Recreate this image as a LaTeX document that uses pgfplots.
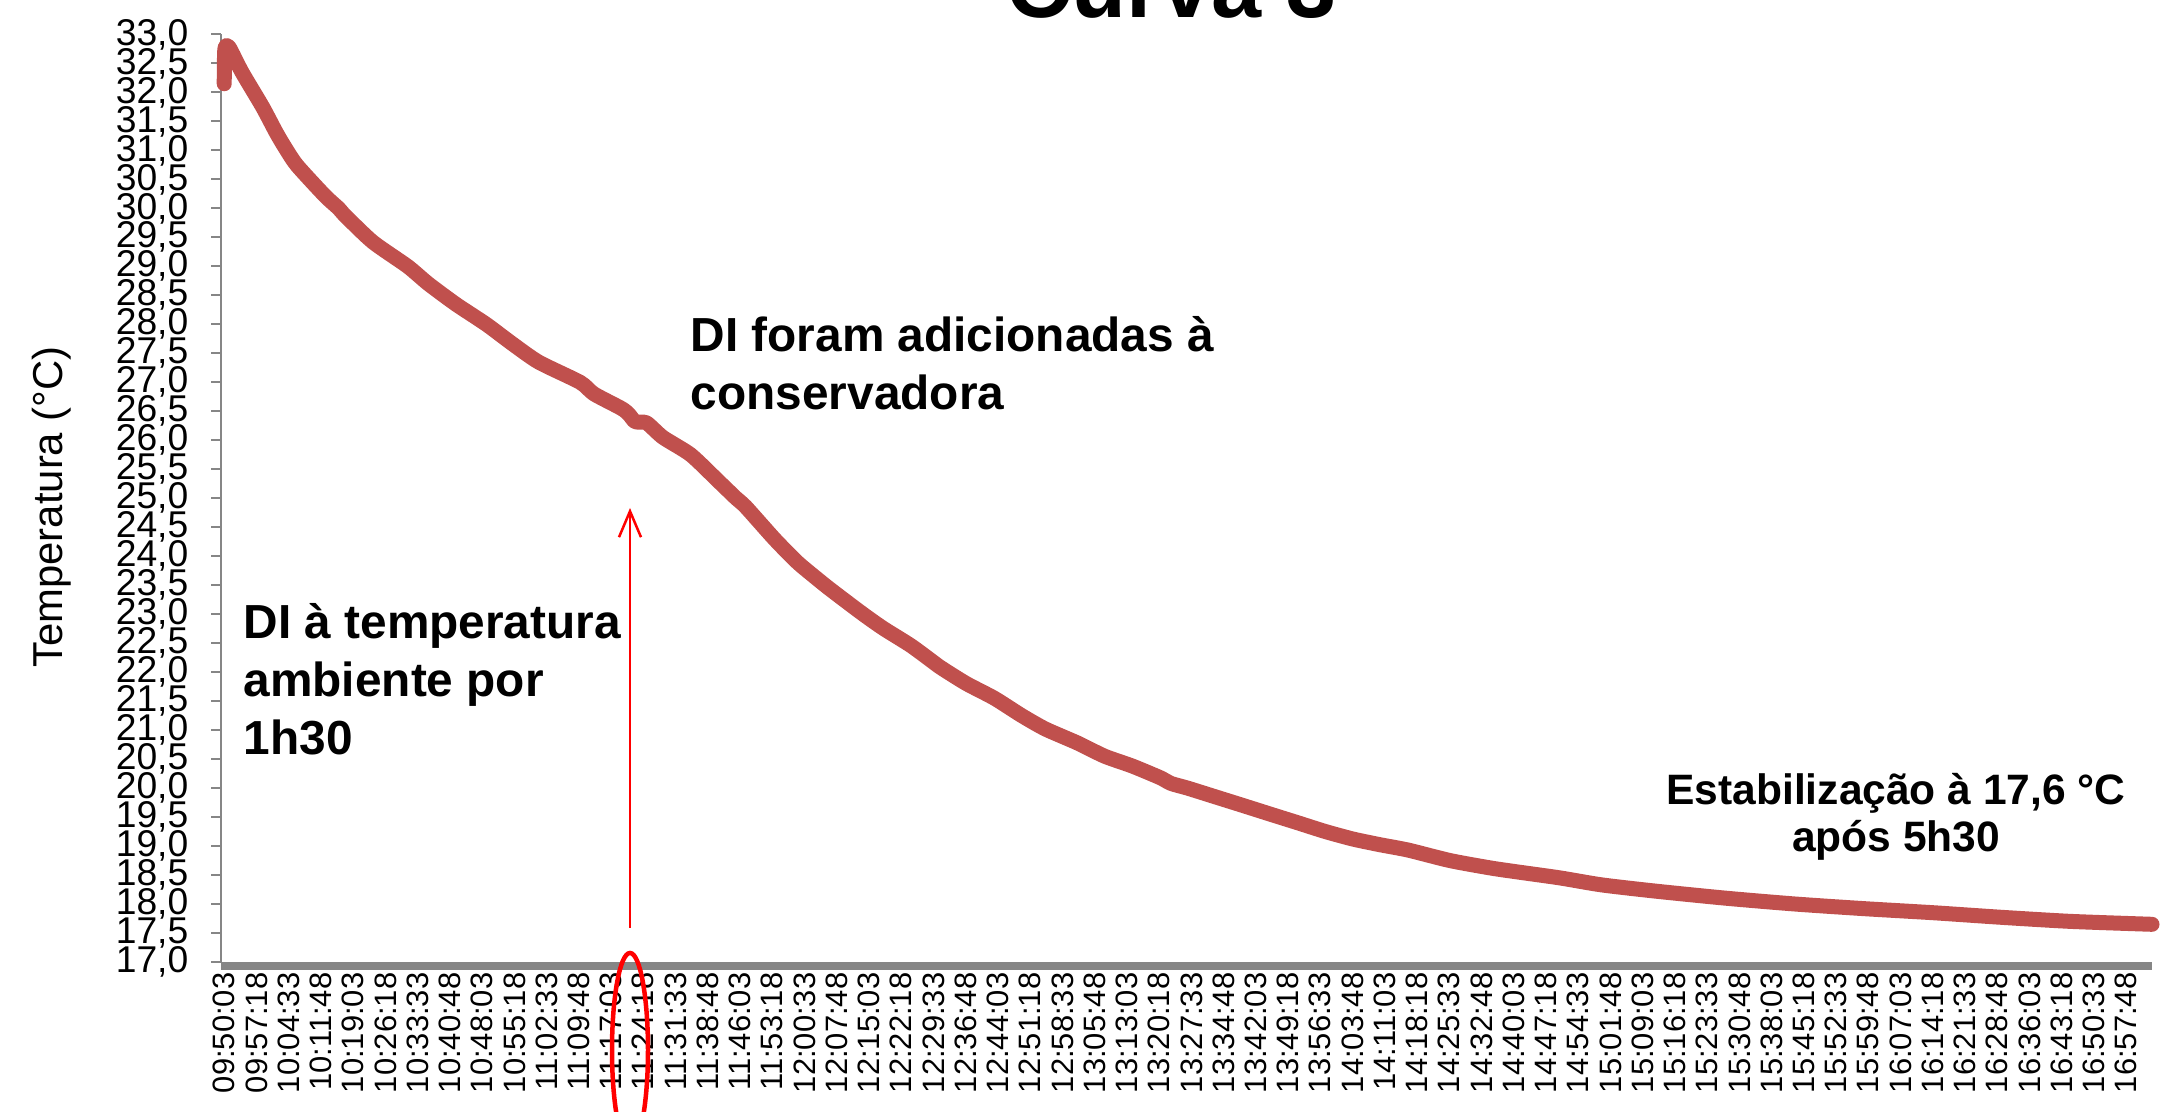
\documentclass[border=0pt]{standalone}
\usepackage{pgfplots}
\pgfplotsset{compat=1.18}
\usepackage{fontspec}
\setmainfont{Liberation Sans}
\usetikzlibrary{arrows.meta}
\definecolor{curvered}{HTML}{C0504D}
\definecolor{axgray}{HTML}{868686}
\definecolor{annred}{HTML}{FF0000}
\begin{document}
\begin{tikzpicture}[x=1mm,y=1mm]
\path[use as bounding box] (0,0) rectangle (216.5,111.2);
\begin{axis}[
  at={(22.1mm,15.0mm)}, anchor=south west,
  width=193.1mm, height=92.75mm, scale only axis,
  xmin=-0.1, xmax=59.8, ymin=17, ymax=33,
  clip=false,
  axis line style={draw=none},
  tick pos=left,
  tick align=outside,
  major tick length=1mm,
  xtick style={draw=none},
  ytick style={draw=axgray, line width=0.2mm},
  ytick={17,17.5,...,33},
  yticklabel={\pgfmathprintnumber[fixed,fixed zerofill,precision=1,use comma,assume math mode=true]{\tick}},
  yticklabel style={font=\fontsize{10.6}{10.6}\selectfont, inner sep=0pt, xshift=-2.2mm},
  xtick={0,...,59},
  xticklabels={09:50:03,09:57:18,10:04:33,10:11:48,10:19:03,10:26:18,10:33:33,10:40:48,10:48:03,10:55:18,11:02:33,11:09:48,11:17:03,11:24:18,11:31:33,11:38:48,11:46:03,11:53:18,12:00:33,12:07:48,12:15:03,12:22:18,12:29:33,12:36:48,12:44:03,12:51:18,12:58:33,13:05:48,13:13:03,13:20:18,13:27:33,13:34:48,13:42:03,13:49:18,13:56:33,14:03:48,14:11:03,14:18:18,14:25:33,14:32:48,14:40:03,14:47:18,14:54:33,15:01:48,15:09:03,15:16:18,15:23:33,15:30:48,15:38:03,15:45:18,15:52:33,15:59:48,16:07:03,16:14:18,16:21:33,16:28:48,16:36:03,16:43:18,16:50:33,16:57:48},
  xticklabel style={rotate=90, anchor=east, inner sep=0pt, font=\fontsize{8.8}{8.8}\selectfont},
]
\draw[axgray, line width=0.2mm] (rel axis cs:0,0) -- (rel axis cs:0,1);
\fill[axgray] (rel axis cs:0,0) rectangle ([yshift=-0.8mm]rel axis cs:1,0);
\addplot[curvered, line width=1.5mm, line join=round, line cap=round, mark=none, smooth, tension=0.4] coordinates {
(0.00,32.15) (0.02,32.75) (0.15,32.78) (0.55,32.35) (1.19,31.75) (1.62,31.30)
(1.92,31.02) (2.26,30.74) (3.12,30.22) (3.55,30.00) (3.76,29.87) (4.61,29.42)
(5.69,29.00) (6.33,28.70) (7.18,28.35) (8.13,28.00) (8.90,27.68) (9.75,27.35)
(11.04,27.00) (11.47,26.80) (12.32,26.55) (12.55,26.45) (12.75,26.32) (13.10,26.30)
(13.61,26.05) (14.47,25.75) (15.32,25.30) (15.88,25.00) (16.18,24.85) (17.03,24.32)
(17.55,24.02) (17.89,23.84) (18.75,23.45) (19.82,23.00) (20.46,22.75) (21.32,22.45)
(22.17,22.10) (22.39,22.02) (23.03,21.80) (23.89,21.55) (24.74,21.25) (25.47,21.02)
(26.46,20.78) (27.31,20.55) (28.17,20.38) (29.03,20.18) (29.37,20.08) (29.88,20.00)
(30.74,19.85) (31.60,19.70) (32.45,19.55) (33.31,19.40) (34.16,19.25) (35.02,19.12)
(35.88,19.02) (36.73,18.93) (38.02,18.75) (39.30,18.62) (40.16,18.55) (41.44,18.45)
(42.73,18.33) (44.44,18.22) (46.59,18.10) (48.73,18.00) (50.87,17.92) (53.01,17.85)
(55.15,17.77) (57.29,17.70) (59.80,17.65)
};
\end{axis}
% y label
\node[rotate=90, font=\fontsize{11.9}{11.9}\selectfont] at (5.2,60.5) {Temperatura (°C)};
% title (cut off at top)
\node[anchor=base, font=\fontsize{25.6}{25.6}\selectfont\bfseries] at (117.2,109.45) {Curva 3};
% annotations
\begin{scope}[every node/.style={anchor=base west, inner sep=0pt, font=\fontsize{13.6}{13.6}\selectfont\bfseries}]
\node at (69.0,76.0) {DI foram adicionadas à};
\node at (69.0,70.2) {conservadora};
\node at (24.3,47.3) {DI à temperatura};
\node at (24.3,41.5) {ambiente por};
\node at (24.3,35.7) {1h30};
\end{scope}
\begin{scope}[every node/.style={anchor=base, inner sep=0pt, font=\fontsize{12.1}{12.1}\selectfont\bfseries}]
\node at (189.6,30.7) {Estabilização à 17,6 °C};
\node at (189.6,26.0) {após 5h30};
\end{scope}
% arrow and ellipse
\draw[annred, line width=0.25mm, -{Straight Barb[length=2.6mm,width=2.2mm]}] (63.0,18.4) -- (63.0,60.4);
\draw[annred, line width=0.45mm] (63.0,6.2) ellipse [x radius=1.8, y radius=9.7];
\end{tikzpicture}
\end{document}
